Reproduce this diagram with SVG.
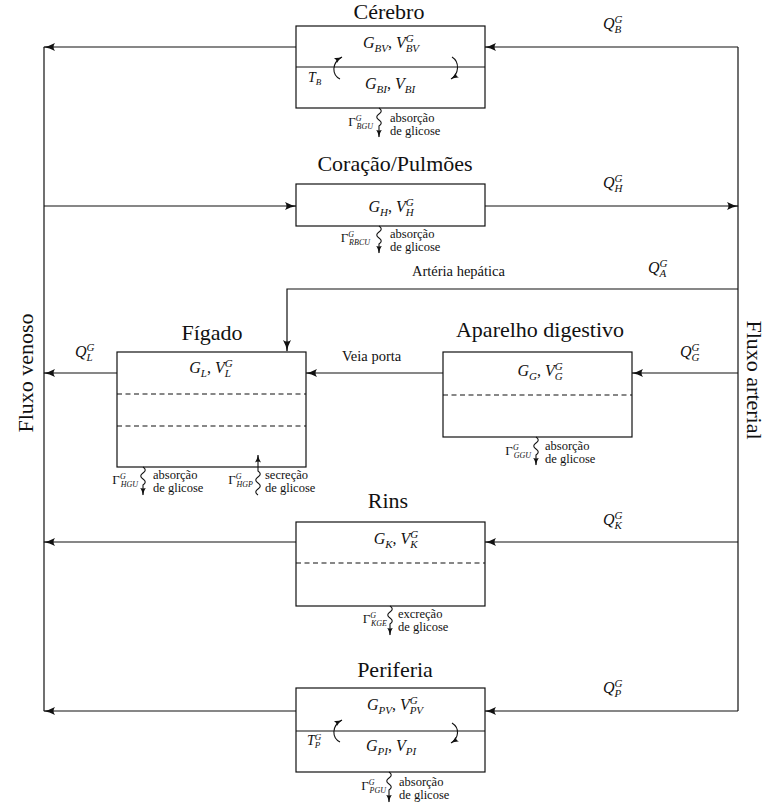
<svg xmlns="http://www.w3.org/2000/svg" width="767" height="809" viewBox="0 0 767 809">
<style>
text{font-family:"Liberation Serif","Times New Roman",serif;fill:#111}
.t{font-size:22px}
.m{font-size:16px;font-style:italic}
.up{font-style:normal}
.s{font-size:12.5px}
.g{font-size:13px}
.sp{font-size:11px}
.sb{font-size:11px}
.gs{font-size:8px;font-style:italic}
.box{fill:#fff;stroke:#111;stroke-width:1.2}
.dash{stroke:#111;stroke-width:1.1;stroke-dasharray:5,3.5;fill:none}
.ln{stroke:#111;stroke-width:1.2;fill:none}
.arr{stroke:#111;stroke-width:1.2;fill:none;marker-end:url(#ah)}
.sq{stroke:#111;stroke-width:1.1;fill:none;marker-end:url(#sh)}
</style>
<defs>
<marker id="ah" viewBox="0 0 12 8" refX="11" refY="4" markerWidth="12" markerHeight="8" markerUnits="userSpaceOnUse" orient="auto">
<path d="M0,0 Q5,3 12,4 Q5,5 0,8 Q3,4 0,0 Z" fill="#111"/>
</marker>
<marker id="sh" viewBox="0 0 8 6" refX="7.5" refY="3" markerWidth="8" markerHeight="6" markerUnits="userSpaceOnUse" orient="auto">
<path d="M0,0 Q3,2.2 8,3 Q3,3.8 0,6 Q2,3 0,0 Z" fill="#111"/>
</marker>
</defs>

<g id="connectors">
<path class="ln" d="M44,47 V711"/>
<path class="ln" d="M738,47 V711"/>
<path class="arr" d="M738,47 H485"/>
<path class="arr" d="M296,47 H44"/>
<path class="arr" d="M44,206 H296"/>
<path class="arr" d="M485,206 H738"/>
<path class="arr" d="M738,289 H287 V351"/>
<path class="arr" d="M443,373 H306"/>
<path class="arr" d="M117,373 H44"/>
<path class="arr" d="M738,373 H632"/>
<path class="arr" d="M738,542 H485"/>
<path class="arr" d="M296,542 H44"/>
<path class="arr" d="M738,711 H485"/>
<path class="arr" d="M296,711 H44"/>
</g>

<g id="labels">
<text class="m" x="603" y="29">Q<tspan class="sp" dy="-6">G</tspan><tspan class="sb" dx="-8" dy="10">B</tspan></text>
<text class="m" x="603" y="188">Q<tspan class="sp" dy="-6">G</tspan><tspan class="sb" dx="-8" dy="10">H</tspan></text>
<text x="412" y="276" style="font-size:14.5px">Artéria hepática</text>
<text class="m" x="648" y="273">Q<tspan class="sp" dy="-6">G</tspan><tspan class="sb" dx="-8" dy="10">A</tspan></text>
<text class="m" x="75" y="357">Q<tspan class="sp" dy="-6">G</tspan><tspan class="sb" dx="-8" dy="10">L</tspan></text>
<text x="342" y="361" style="font-size:14.5px">Veia porta</text>
<text class="m" x="680" y="357">Q<tspan class="sp" dy="-6">G</tspan><tspan class="sb" dx="-8" dy="10">G</tspan></text>
<text class="m" x="603" y="525">Q<tspan class="sp" dy="-6">G</tspan><tspan class="sb" dx="-8" dy="10">K</tspan></text>
<text class="m" x="603" y="693">Q<tspan class="sp" dy="-6">G</tspan><tspan class="sb" dx="-8" dy="10">P</tspan></text>
<text class="t" transform="translate(33,373) rotate(-90)" text-anchor="middle">Fluxo venoso</text>
<text class="t" transform="translate(747,380) rotate(90)" text-anchor="middle">Fluxo arterial</text>
</g>

<g id="cerebro">
<text class="t" x="389" y="19" text-anchor="middle">Cérebro</text>
<rect class="box" x="296" y="26" width="189" height="82"/>
<path class="ln" d="M296,67 H485"/>
<text class="m" x="391" y="48" text-anchor="middle">G<tspan class="sb" dy="4">BV</tspan><tspan class="up" dy="-4">, </tspan>V<tspan class="sp" dy="-6">G</tspan><tspan class="sb" dx="-8" dy="10">BV</tspan></text>
<text class="m" x="390" y="89" text-anchor="middle">G<tspan class="sb" dy="4">BI</tspan><tspan class="up" dy="-4">, </tspan>V<tspan class="sb" dy="4">BI</tspan></text>
<text class="m" x="308" y="82" style="font-size:14px">T<tspan class="sb" dy="3" style="font-size:9px">B</tspan></text>
<path class="sq" d="M340,79 C332,75 331,63 342,57"/>
<path class="sq" d="M452,57 C460,62 459,74 451,79"/>
<path class="sq" d="M379,108 c3,2 3,4 0,6 c-3,2 -3,4 0,6 c3,2 3,4 0,6 l0,11"/>
<text class="g" x="373" y="126" text-anchor="end">Γ<tspan class="gs" dy="-5">G</tspan><tspan class="gs" dx="-5" dy="8">BGU</tspan></text>
<text class="s" x="390" y="122">absorção</text>
<text class="s" x="390" y="134.5">de glicose</text>
</g>

<g id="coracao">
<text class="t" x="395" y="171" text-anchor="middle">Coração/Pulmões</text>
<rect class="box" x="296" y="184" width="189" height="42"/>
<text class="m" x="391" y="212" text-anchor="middle">G<tspan class="sb" dy="4">H</tspan><tspan class="up" dy="-4">, </tspan>V<tspan class="sp" dy="-6">G</tspan><tspan class="sb" dx="-8" dy="10">H</tspan></text>
<path class="sq" d="M379,226 c3,2 3,4 0,6 c-3,2 -3,4 0,6 c3,2 3,4 0,6 l0,9"/>
<text class="g" x="370" y="242" text-anchor="end">Γ<tspan class="gs" dy="-5">G</tspan><tspan class="gs" dx="-5" dy="8">RBCU</tspan></text>
<text class="s" x="390" y="238">absorção</text>
<text class="s" x="390" y="250.5">de glicose</text>
</g>

<g id="figado">
<text class="t" x="212" y="340" text-anchor="middle">Fígado</text>
<rect class="box" x="117" y="352" width="189" height="115"/>
<path class="dash" d="M117,394 H306 M117,426 H306"/>
<text class="m" x="211" y="373" text-anchor="middle">G<tspan class="sb" dy="4">L</tspan><tspan class="up" dy="-4">, </tspan>V<tspan class="sp" dy="-6">G</tspan><tspan class="sb" dx="-8" dy="10">L</tspan></text>
<path class="sq" d="M143,467 c3,2 3,4 0,6 c-3,2 -3,4 0,6 c3,2 3,4 0,6 l0,10"/>
<text class="g" x="138" y="484" text-anchor="end">Γ<tspan class="gs" dy="-5">G</tspan><tspan class="gs" dx="-5" dy="8">HGU</tspan></text>
<text class="s" x="153" y="479">absorção</text>
<text class="s" x="153" y="492">de glicose</text>
<path class="sq" d="M258,495 c-3,-2 -3,-4 0,-6 c3,-2 3,-4 0,-6 c-3,-2 -3,-4 0,-6 c3,-2 3,-4 0,-6 L258,455"/>
<text class="g" x="253" y="484" text-anchor="end">Γ<tspan class="gs" dy="-5">G</tspan><tspan class="gs" dx="-5" dy="8">HGP</tspan></text>
<text class="s" x="265" y="479">secreção</text>
<text class="s" x="265" y="492">de glicose</text>
</g>

<g id="digestivo">
<text class="t" x="540" y="337" text-anchor="middle">Aparelho digestivo</text>
<rect class="box" x="443" y="352" width="189" height="85"/>
<path class="dash" d="M443,395 H632"/>
<text class="m" x="540" y="376" text-anchor="middle">G<tspan class="sb" dy="4">G</tspan><tspan class="up" dy="-4">, </tspan>V<tspan class="sp" dy="-6">G</tspan><tspan class="sb" dx="-8" dy="10">G</tspan></text>
<path class="sq" d="M536,437 c3,2 3,4 0,6 c-3,2 -3,4 0,6 c3,2 3,4 0,6 l0,10"/>
<text class="g" x="531" y="455" text-anchor="end">Γ<tspan class="gs" dy="-5">G</tspan><tspan class="gs" dx="-5" dy="8">GGU</tspan></text>
<text class="s" x="545" y="450">absorção</text>
<text class="s" x="545" y="462.5">de glicose</text>
</g>

<g id="rins">
<text class="t" x="388" y="508" text-anchor="middle">Rins</text>
<rect class="box" x="296" y="522" width="189" height="84"/>
<path class="dash" d="M296,563 H485"/>
<text class="m" x="396" y="544" text-anchor="middle">G<tspan class="sb" dy="4">K</tspan><tspan class="up" dy="-4">, </tspan>V<tspan class="sp" dy="-6">G</tspan><tspan class="sb" dx="-8" dy="10">K</tspan></text>
<path class="sq" d="M390,606 c3,2 3,4 0,6 c-3,2 -3,4 0,6 c3,2 3,4 0,6 l0,11"/>
<text class="g" x="387" y="623" text-anchor="end">Γ<tspan class="gs" dy="-5">G</tspan><tspan class="gs" dx="-5" dy="8">KGE</tspan></text>
<text class="s" x="398" y="618">excreção</text>
<text class="s" x="398" y="630.5">de glicose</text>
</g>

<g id="periferia">
<text class="t" x="395" y="677" text-anchor="middle">Periferia</text>
<rect class="box" x="296" y="688" width="189" height="84"/>
<path class="ln" d="M296,731 H485"/>
<text class="m" x="395" y="710" text-anchor="middle">G<tspan class="sb" dy="4">PV</tspan><tspan class="up" dy="-4">, </tspan>V<tspan class="sp" dy="-6">G</tspan><tspan class="sb" dx="-8" dy="10">PV</tspan></text>
<text class="m" x="391" y="751" text-anchor="middle">G<tspan class="sb" dy="4">PI</tspan><tspan class="up" dy="-4">, </tspan>V<tspan class="sb" dy="4">PI</tspan></text>
<text class="m" x="307" y="745" style="font-size:14px">T<tspan dy="-5" style="font-size:9px">G</tspan><tspan dx="-6.5" dy="8" style="font-size:9px">P</tspan></text>
<path class="sq" d="M340,742 C332,738 331,726 342,720"/>
<path class="sq" d="M452,723 C460,728 459,738 451,743"/>
<path class="sq" d="M389,772 c3,2 3,4 0,6 c-3,2 -3,4 0,6 c3,2 3,4 0,6 l0,12"/>
<text class="g" x="386" y="790" text-anchor="end">Γ<tspan class="gs" dy="-5">G</tspan><tspan class="gs" dx="-5" dy="8">PGU</tspan></text>
<text class="s" x="399" y="786">absorção</text>
<text class="s" x="399" y="798.5">de glicose</text>
</g>
</svg>
